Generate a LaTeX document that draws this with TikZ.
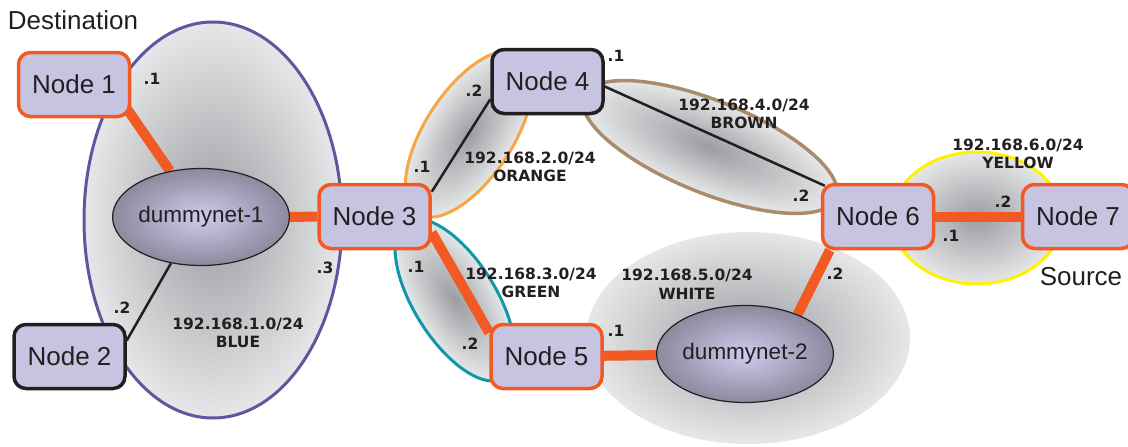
\documentclass[tikz,border=0pt]{standalone}
\usepackage{fontspec}
\setmainfont{Liberation Sans}
\newfontfamily\lblfont{DejaVu Sans}
\usetikzlibrary{shapes.geometric,calc}
\pgfdeclarelayer{bg}
\pgfdeclarelayer{mid}
\pgfsetlayers{bg,mid,main}
\definecolor{ink}{RGB}{35,31,32}
\definecolor{linkorange}{RGB}{241,90,34}
\definecolor{nodefill}{RGB}{199,196,226}
\definecolor{netblue}{RGB}{96,86,160}
\definecolor{netorange}{RGB}{247,166,66}
\definecolor{netbrown}{RGB}{168,140,108}
\definecolor{netteal}{RGB}{16,152,168}
\definecolor{netyellow}{RGB}{255,242,0}
\definecolor{shadein}{RGB}{156,157,161}
\definecolor{shadeout}{RGB}{230,231,232}
\definecolor{dnin}{RGB}{206,204,236}
\definecolor{dnout}{RGB}{140,138,158}
% the path's bounding box is matched to the +-25bp square of a shading
\pgfdeclareradialshading{netshade}{\pgfpoint{0bp}{0bp}}{color(0bp)=(shadein); color(25bp)=(shadeout); color(50bp)=(shadeout)}
\pgfdeclareradialshading{dnshade}{\pgfpoint{0bp}{0bp}}{color(0bp)=(dnin); color(25bp)=(dnout); color(50bp)=(dnout)}
\begin{document}
\begin{tikzpicture}[x=1pt,y=-1pt,
  box/.style={draw=linkorange, line width=3.5pt, fill=nodefill, rounded corners=12pt,
    minimum width=111pt, minimum height=64pt, inner sep=0pt,
    font=\fontsize{26}{30}\selectfont, text=ink},
  boxdark/.style={box, draw=ink},
  dummy/.style={ellipse, draw=ink, line width=1.2pt, shade, shading=dnshade,
    minimum width=155pt, minimum height=97pt, inner sep=0pt,
    font=\fontsize{22.5}{26}\selectfont, text=ink},
  fat/.style={draw=linkorange, line width=10pt},
  wire/.style={draw=ink, line width=2.5pt},
  lbl/.style={font=\lblfont\bfseries\fontsize{15.5}{18.5}\selectfont, text=ink,
    align=center, inner sep=0pt},
  sidetext/.style={font=\fontsize{26}{30}\selectfont, text=ink, inner sep=0pt},
  net/.style={shading=netshade, line width=3pt}]
\useasboundingbox (0,0) rectangle (1128,447);

% subnet regions
\begin{pgfonlayer}{bg}
  \shade[net, draw=netblue] (213,220) ellipse [x radius=129, y radius=198];
  \shade[net] (748,338) ellipse [x radius=162, y radius=106];
  \shade[net, draw=netyellow] (977,218) ellipse [x radius=85, y radius=66];
  \begin{scope}[transform canvas={shift={(469,134)}, rotate=57}]
    \shade[net, draw=netorange] (0,0) ellipse [x radius=95, y radius=44];
  \end{scope}
  \begin{scope}[transform canvas={shift={(710,147)}, rotate=-22}]
    \shade[net, draw=netbrown, line width=3.5pt] (0,0) ellipse [x radius=136, y radius=46];
  \end{scope}
  \begin{scope}[transform canvas={shift={(455,300)}, rotate=-58}]
    \shade[net, draw=netteal] (0,0) ellipse [x radius=92, y radius=41];
  \end{scope}
\end{pgfonlayer}

% hosts and emulators
\node[box] (n1) at (74,84.5) {Node 1};
\node[boxdark] (n2) at (69.5,356.5) {Node 2};
\node[box] (n3) at (374.5,216.5) {Node 3};
\node[boxdark] (n4) at (547.5,81.5) {Node 4};
\node[box] (n5) at (546.5,356.5) {Node 5};
\node[box] (n6) at (878,216.5) {Node 6};
\node[box] (n7) at (1078,216.5) {Node 7};
\node[dummy] (d1) at (201,217) {dummynet-1};
\node[dummy] (d2) at (745,354) {dummynet-2};

% links
\begin{pgfonlayer}{mid}
  \draw[fat] ($(n1.south east)+(-4,-9)$) -- (d1.124);
  \draw[fat] (d1.east) -- (n3.west);
  \draw[wire] (d1.237) -- ($(n2.east)+(0,-16)$);
  \draw[wire] ($(n3.north east)+(0,9)$) -- ($(n4.south west)+(0,-16)$);
  \draw[fat] ($(n3.east)+(0,16)$) -- ($(n5.north west)+(0,10)$);
  \draw[wire] ($(n4.east)+(0,5)$) -- ($(n6.north west)+(4,3)$);
  \draw[fat] (n5) -- (d2);
  \draw[fat] (d2.37) -- ($(n6.south west)+(9,0)$);
  \draw[fat] (n6) -- (n7);
\end{pgfonlayer}

% addresses
\node[lbl] (a11) at (152,79) {.1};
\node[lbl] (a12) at (122,308) {.2};
\node[lbl] (a13) at (325,268) {.3};
\node[lbl] (s1) at (238,333) {192.168.1.0/24\\BLUE};
\node[lbl] (a22) at (474,91) {.2};
\node[lbl] (a21) at (422,167) {.1};
\node[lbl] (s2) at (530,167) {192.168.2.0/24\\ORANGE};
\node[lbl] (a41) at (616,56) {.1};
\node[lbl] (s4) at (744,114) {192.168.4.0/24\\BROWN};
\node[lbl] (a42) at (801,196) {.2};
\node[lbl] (s6) at (1018,154) {192.168.6.0/24\\YELLOW};
\node[lbl] (a62) at (1003,202) {.2};
\node[lbl] (a61) at (951,236) {.1};
\node[lbl] (a52) at (835,274) {.2};
\node[lbl] (s5) at (687,284) {192.168.5.0/24\\WHITE};
\node[lbl] (a51) at (616,331) {.1};
\node[lbl] (a31) at (416,267) {.1};
\node[lbl] (a32) at (470,344) {.2};
\node[lbl] (s3) at (531,283) {192.168.3.0/24\\GREEN};
\node[sidetext] (dst) at (73,20) {Destination};
\node[sidetext] (src) at (1081,277) {Source};
\end{tikzpicture}
\end{document}
